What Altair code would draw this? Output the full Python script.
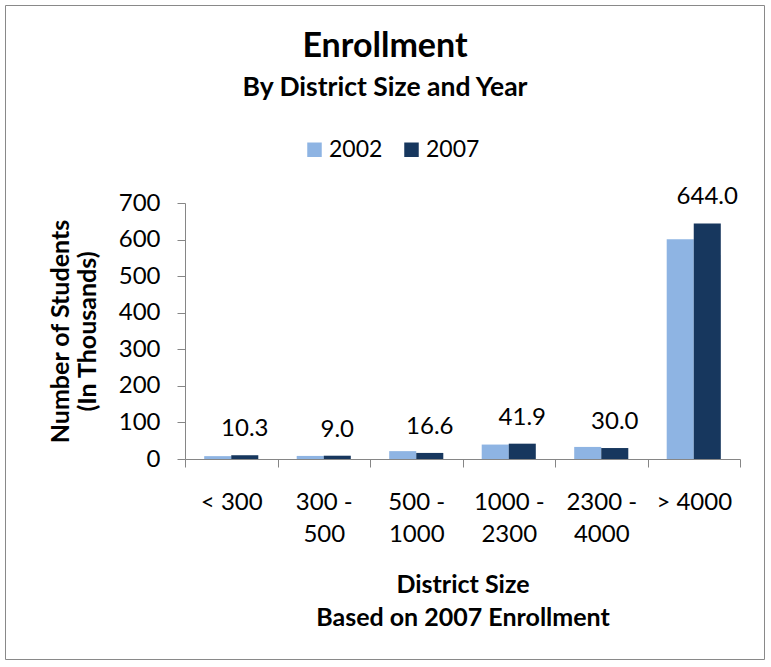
import altair as alt
import pandas as pd

# Enrollment (thousands of students) by district size, 2002 vs 2007
categories = ["< 300", "300 - 500", "500 - 1000", "1000 - 2300", "2300 - 4000", "> 4000"]
years = ["2002", "2007"]
enroll_2002 = [7.8, 8.4, 21.5, 39.5, 33.0, 601.0]
enroll_2007 = [10.3, 9.0, 16.6, 41.9, 30.0, 644.0]
year_colors = ["#8EB4E3", "#17375E"]
y_ticks = [0, 100, 200, 300, 400, 500, 600, 700]

title_text = "Enrollment"
subtitle_text = "By District Size and Year"
y_title = ["Number of Students", "(In Thousands)"]
x_title = ["District Size", "Based on 2007 Enrollment"]

rows = []
for cat, v02, v07 in zip(categories, enroll_2002, enroll_2007):
    rows.append({"district": cat, "year": "2002", "students": v02})
    rows.append({"district": cat, "year": "2007", "students": v07})
df = pd.DataFrame(rows)

FONT = "Lato"
W, H = 555, 256
GRAY = "#868686"

x_axis = alt.Axis(
    labelAngle=0,
    tickBand="extent",
    tickSize=8,
    tickColor=GRAY,
    domainColor=GRAY,
    labelPadding=23,
    labelFont=FONT,
    labelFontSize=24,
    labelColor="black",
    labelLineHeight=32,
    labelOverlap=False,
    labelExpr="indexof(datum.label, ' - ') >= 0 ? [split(datum.label, ' - ')[0] + ' -', split(datum.label, ' - ')[1]] : datum.label",
    title=x_title,
    titleX=W / 2,
    titleY=133,
    titleBaseline="alphabetic",
    titleFont=FONT,
    titleFontSize=25,
    titleFontWeight="bold",
    titleColor="black",
    titleLineHeight=33,
)
y_axis = alt.Axis(
    values=y_ticks,
    tickCount=8,
    grid=False,
    tickSize=8,
    tickColor=GRAY,
    domainColor=GRAY,
    labelPadding=17,
    labelFont=FONT,
    labelFontSize=24,
    labelColor="black",
    labelOverlap=False,
    labelBound=False,
    title=y_title,
    titleX=-117,
    titleY=H / 2,
    titleAngle=-90,
    titleBaseline="alphabetic",
    titleAlign="center",
    titleFont=FONT,
    titleFontSize=25,
    titleFontWeight="bold",
    titleColor="black",
    titleLineHeight=27,
)

x_scale = alt.Scale(paddingInner=0, paddingOuter=0)
xoff_scale = alt.Scale(paddingInner=0, paddingOuter=0.71)
y_scale = alt.Scale(domain=[0, 700], nice=False)

bars = alt.Chart(df).mark_bar().encode(
    x=alt.X("district:N", sort=categories, scale=x_scale, axis=x_axis),
    xOffset=alt.XOffset("year:N", sort=years, scale=xoff_scale),
    y=alt.Y("students:Q", scale=y_scale, axis=y_axis),
    color=alt.Color(
        "year:N",
        sort=years,
        scale=alt.Scale(domain=years, range=year_colors),
        legend=alt.Legend(
            orient="none",
            legendX=118,
            legendY=-65,
            direction="horizontal",
            title=None,
            symbolType="square",
            symbolSize=210,
            symbolStrokeWidth=0,
            labelFont=FONT,
            labelFontSize=23,
            labelColor="black",
            labelOffset=3,
            columnPadding=17,
        ),
    ),
)

# value labels above the 2007 bars
labels = alt.Chart(df).transform_filter(alt.datum.year == "2007").mark_text(
    font=FONT, fontSize=24, color="black", baseline="alphabetic", dy=-19
).encode(
    x=alt.X("district:N", sort=categories, scale=x_scale, axis=x_axis),
    xOffset=alt.XOffset("year:N", sort=years, scale=xoff_scale),
    y=alt.Y("students:Q", scale=y_scale, axis=y_axis),
    text=alt.Text("students:Q", format=".1f"),
)

one = pd.DataFrame({"t": [title_text], "s": [subtitle_text]})
title = alt.Chart(one).mark_text(
    font=FONT, fontSize=34, fontWeight="bold", color="black", align="center", baseline="alphabetic"
).encode(x=alt.value(200), y=alt.value(-146), text="t:N")
subtitle = alt.Chart(one).mark_text(
    font=FONT, fontSize=26.5, fontWeight="bold", color="black", align="center", baseline="alphabetic"
).encode(x=alt.value(200), y=alt.value(-107), text="s:N")

frame = alt.Chart(one).mark_rect(fillOpacity=0, stroke="#898989", strokeWidth=1).encode(
    x=alt.value(-179.5), x2=alt.value(579.5), y=alt.value(-197.5), y2=alt.value(456.5)
)

chart = (
    alt.layer(frame, bars, labels, title, subtitle)
    .properties(
        width=W,
        height=H,
        autosize=alt.AutoSizeParams(type="none"),
        padding={"left": 185, "top": 203, "right": 31, "bottom": 208},
        background="white",
    )
    .configure_view(stroke=None)
)

chart.save("out.html", embed_options={"renderer": "svg", "actions": False})
